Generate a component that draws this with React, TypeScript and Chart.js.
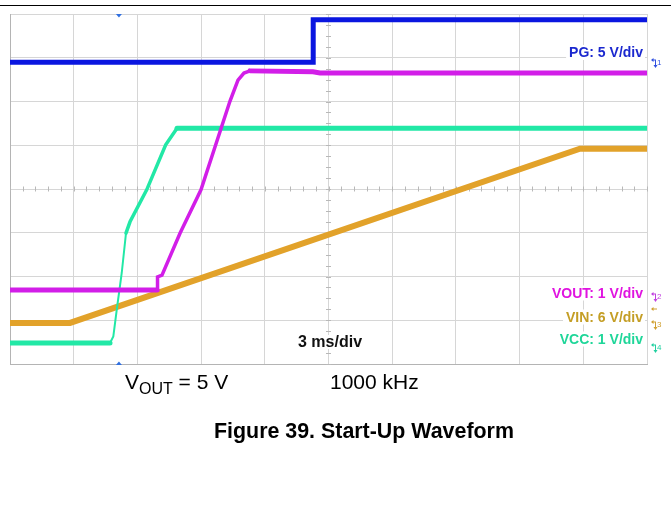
import React, { useEffect, useRef } from "react";
import { Chart, registerables } from "chart.js";

Chart.register(...registerables);

// Time axis in divisions (3 ms/div), values in screen divisions (0..8)
const pgT = [0, 4.76, 4.76, 10];
const pgV = [6.9, 6.9, 7.87, 7.87];

const voutT = [0, 2.308, 2.316, 2.386, 2.669, 2.998, 3.454, 3.579, 3.673, 3.768, 4.757, 4.867, 10];
const voutV = [1.69, 1.69, 1.99, 2.03, 2.99, 3.98, 6.01, 6.49, 6.65, 6.7, 6.68, 6.65, 6.65];

const vccT = [0, 1.57, 1.622, 1.675, 1.754, 1.821, 1.884, 2.146, 2.444, 2.622, 10];
const vccV = [0.48, 0.48, 0.63, 1.23, 2.08, 2.99, 3.25, 3.98, 5.01, 5.39, 5.39];

const vinT = [0, 0.942, 8.948, 10];
const vinV = [0.94, 0.94, 4.92, 4.92];

const xTicks = [0, 1, 2, 3, 4, 5, 6, 7, 8, 9, 10];
const yTicks = [0, 1, 2, 3, 4, 5, 6, 7, 8];

const channelLabels = ["PG: 5 V/div", "VOUT: 1 V/div", "VIN: 6 V/div", "VCC: 1 V/div"];
const timebaseLabel = "3 ms/div";
const captionLeft = "V";
const captionSub = "OUT";
const captionRest = " = 5 V";
const captionFreq = "1000 kHz";
const figureTitle = "Figure 39. Start-Up Waveform";

const pts = (t: number[], v: number[]) => t.map((x, i) => ({ x, y: v[i] }));

const FONT = "'Liberation Sans', Arial, sans-serif";

const overlay = {
  id: "scopeOverlay",
  beforeDatasetsDraw(chart: any) {
    const { ctx, scales } = chart;
    const xs = scales.x;
    const ys = scales.y;
    const cx = xs.getPixelForValue(5);
    const cy = ys.getPixelForValue(4);
    ctx.save();
    ctx.strokeStyle = "#b8b8b8";
    ctx.lineWidth = 1;
    ctx.beginPath();
    for (let i = 0; i <= 50; i++) {
      const px = Math.round(xs.getPixelForValue(i / 5)) + 0.5;
      ctx.moveTo(px, cy - 2.5);
      ctx.lineTo(px, cy + 2.5);
    }
    for (let i = 0; i <= 32; i++) {
      const py = Math.round(ys.getPixelForValue(i / 4)) + 0.5;
      ctx.moveTo(cx - 2.5, py);
      ctx.lineTo(cx + 2.5, py);
    }
    ctx.stroke();
    ctx.restore();
  },
  afterDatasetsDraw(chart: any) {
    const { ctx, chartArea: a, scales } = chart;
    const xs = scales.x;
    ctx.save();
    // top rule
    ctx.fillStyle = "#000";
    ctx.fillRect(0, 5, 671, 1);

    // trigger markers
    const tx = xs.getPixelForValue(1.71);
    ctx.fillStyle = "#2f6fe0";
    ctx.beginPath();
    ctx.moveTo(tx - 3, a.top);
    ctx.lineTo(tx + 3, a.top);
    ctx.lineTo(tx, a.top + 3.5);
    ctx.closePath();
    ctx.fill();
    ctx.beginPath();
    ctx.moveTo(tx - 3, a.bottom + 1);
    ctx.lineTo(tx + 3, a.bottom + 1);
    ctx.lineTo(tx, a.bottom - 2.5);
    ctx.closePath();
    ctx.fill();

    // channel labels
    const labels = [
      { t: channelLabels[0], c: "#1b28cf", y: 57 },
      { t: channelLabels[1], c: "#e014e0", y: 297.5 },
      { t: channelLabels[2], c: "#c49e25", y: 321.5 },
      { t: channelLabels[3], c: "#1fd699", y: 343.5 },
    ];
    ctx.font = "bold 14px " + FONT;
    ctx.textAlign = "right";
    ctx.textBaseline = "alphabetic";
    for (const l of labels) {
      const w = ctx.measureText(l.t).width;
      ctx.fillStyle = "#fff";
      ctx.fillRect(643 - w - 3, l.y - 12, w + 5, 15);
      ctx.fillStyle = l.c;
      ctx.fillText(l.t, 643, l.y);
    }

    // timebase
    ctx.font = "bold 16px " + FONT;
    ctx.textAlign = "left";
    const tw = ctx.measureText(timebaseLabel).width;
    ctx.fillStyle = "#fff";
    ctx.fillRect(297, 335, tw + 2, 14);
    ctx.fillStyle = "#111";
    ctx.fillText(timebaseLabel, 298, 347);

    // channel ground markers on right
    const markers = [
      { y: 60, c: "#3050e0", n: "1" },
      { y: 294, c: "#c040e0", n: "2" },
      { y: 322, c: "#d0a030", n: "3" },
      { y: 345, c: "#20d0a0", n: "4" },
    ];
    ctx.lineWidth = 1;
    ctx.font = "8px " + FONT;
    for (const m of markers) {
      ctx.strokeStyle = m.c;
      ctx.fillStyle = m.c;
      ctx.beginPath();
      ctx.moveTo(652, m.y);
      ctx.lineTo(656, m.y);
      ctx.moveTo(655.5, m.y);
      ctx.lineTo(655.5, m.y + 6);
      ctx.stroke();
      ctx.beginPath();
      ctx.moveTo(651, m.y);
      ctx.lineTo(653.5, m.y - 2);
      ctx.lineTo(653.5, m.y + 2);
      ctx.closePath();
      ctx.fill();
      ctx.beginPath();
      ctx.moveTo(655.5, m.y + 8);
      ctx.lineTo(653.5, m.y + 5);
      ctx.lineTo(657.5, m.y + 5);
      ctx.closePath();
      ctx.fill();
      ctx.fillText(m.n, 657, m.y + 5);
    }
    // VIN extra arrow
    ctx.strokeStyle = "#d0a030";
    ctx.fillStyle = "#d0a030";
    ctx.beginPath();
    ctx.moveTo(652, 309);
    ctx.lineTo(657, 309);
    ctx.stroke();
    ctx.beginPath();
    ctx.moveTo(651, 309);
    ctx.lineTo(653.5, 307);
    ctx.lineTo(653.5, 311);
    ctx.closePath();
    ctx.fill();

    // captions
    ctx.fillStyle = "#000";
    ctx.textAlign = "left";
    ctx.font = "21px " + FONT;
    ctx.fillText(captionLeft, 125, 389);
    const vw = ctx.measureText(captionLeft).width;
    ctx.font = "16px " + FONT;
    ctx.fillText(captionSub, 125 + vw, 394);
    const sw = ctx.measureText(captionSub).width;
    ctx.font = "21px " + FONT;
    ctx.fillText(captionRest, 125 + vw + sw, 389);
    ctx.fillText(captionFreq, 330, 389);

    ctx.font = "bold 21.4px " + FONT;
    ctx.fillText(figureTitle, 214, 438);
    ctx.restore();
  },
};

export default function App() {
  const ref = useRef<HTMLCanvasElement>(null);
  useEffect(() => {
    if (!ref.current) return;
    const vccWidth = (c: any) => {
      const i = c.p0DataIndex;
      if (i >= 1 && i < 5) return 2;
      if (i >= 5 && i < 9) return 3.5;
      return 5;
    };
    const voutWidth = (c: any) => (c.p0DataIndex >= 1 && c.p0DataIndex < 9 ? 3.5 : 5);
    const chart = new Chart(ref.current, {
      type: "line",
      data: {
        datasets: [
          {
            label: "PG",
            data: pts(pgT, pgV),
            borderColor: "#0a16e0",
            borderWidth: 5,
          },
          {
            label: "VOUT",
            data: pts(voutT, voutV),
            borderColor: "#d21ee8",
            borderWidth: 5,
            borderCapStyle: "round",
            segment: { borderWidth: voutWidth },
          },
          {
            label: "VCC",
            data: pts(vccT, vccV),
            borderColor: "#22e8a6",
            borderWidth: 5,
            borderCapStyle: "round",
            segment: { borderWidth: vccWidth },
          },
          {
            label: "VIN",
            data: pts(vinT, vinV),
            borderColor: "#e2a22a",
            borderWidth: 6,
          },
        ],
      },
      options: {
        responsive: false,
        animation: false,
        events: [],
        layout: { padding: { left: 10, top: 14, right: 24, bottom: 161 } },
        elements: { point: { radius: 0 }, line: { tension: 0 } },
        plugins: { legend: { display: false }, tooltip: { enabled: false }, title: { display: false } },
        scales: {
          x: {
            type: "linear",
            min: xTicks[0],
            max: xTicks[xTicks.length - 1],
            afterBuildTicks: (s: any) => {
              s.ticks = xTicks.map((v) => ({ value: v }));
            },
            ticks: { display: false },
            grid: { color: "#d6d6d6", lineWidth: 1, drawTicks: false },
            border: { display: true, color: "#b4b4b4" },
          },
          y: {
            type: "linear",
            min: yTicks[0],
            max: yTicks[yTicks.length - 1],
            afterBuildTicks: (s: any) => {
              s.ticks = yTicks.map((v) => ({ value: v }));
            },
            ticks: { display: false },
            grid: { color: "#d6d6d6", lineWidth: 1, drawTicks: false },
            border: { display: true, color: "#b4b4b4" },
          },
        },
      } as any,
      plugins: [overlay],
    });
    return () => chart.destroy();
  }, []);
  return (
    <div style={{ position: "absolute", left: 0, top: 0, width: 671, height: 525, background: "#fff" }}>
      <canvas ref={ref} width={671} height={525} style={{ display: "block" }} />
    </div>
  );
}
